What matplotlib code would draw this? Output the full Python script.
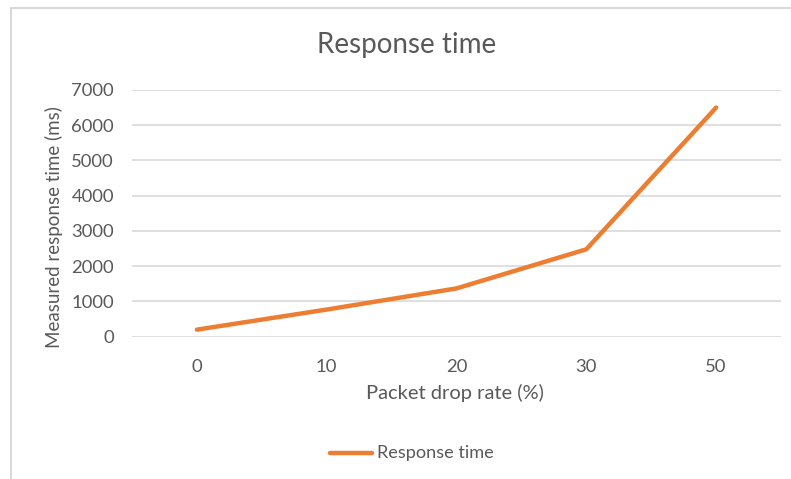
import matplotlib
matplotlib.use('Agg')
import matplotlib.pyplot as plt
from matplotlib.lines import Line2D

# data
categories = ['0', '10', '20', '30', '50']
response_ms = [200, 770, 1370, 2480, 6500]
y_ticks = [0, 1000, 2000, 3000, 4000, 5000, 6000, 7000]

orange = '#ED7D31'
text_col = '#595959'
grid_col = '#D9D9D9'

plt.rcParams['font.family'] = ['Lato', 'DejaVu Sans']

W, H = 791, 479
fig = plt.figure(figsize=(W / 100, H / 100), dpi=100)

# plot area in pixel coords
left, right, top, bottom = 132, 781, 90, 336.7
ax = fig.add_axes([left / W, 1 - bottom / H, (right - left) / W, (bottom - top) / H])

x = list(range(len(categories)))
ax.plot(x, response_ms, color=orange, linewidth=3.2, solid_capstyle='round',
        solid_joinstyle='round', label='Response time', zorder=3)

ax.set_xlim(-0.5, len(categories) - 0.5)
ax.set_ylim(0, 7000)
ax.set_yticks(y_ticks)
ax.set_xticks(x)
ax.set_xticklabels(categories)
ax.grid(axis='y', color=grid_col, linewidth=1.2)
ax.set_axisbelow(True)
for s in ax.spines.values():
    s.set_visible(False)
ax.tick_params(length=0, colors=text_col, labelsize=13.3)
ax.tick_params(axis='y', pad=13)
ax.tick_params(axis='x', pad=16)

ax.set_xlabel('Packet drop rate (%)', color=text_col, fontsize=14.5, va='center')
ax.set_ylabel('Measured response time (ms)', color=text_col, fontsize=13.5, va='center')
ax.xaxis.set_label_coords(0.497, -(393 - bottom) / (bottom - top))
ax.yaxis.set_label_coords((54 - left) / (right - left), (bottom - 227) / (bottom - top))

fig.text(407 / W, 1 - 45 / H, 'Response time', ha='center', va='center',
         color=text_col, fontsize=20)

# legend drawn by hand
fig.add_artist(Line2D([330 / W, 372 / W], [1 - 453 / H, 1 - 453 / H], color=orange,
                      linewidth=3.2, solid_capstyle='round'))
fig.text(377 / W, 1 - 453 / H, 'Response time', ha='left', va='center',
         color=text_col, fontsize=13.1)

# chart frame (top and left edges visible)
fig.add_artist(Line2D([11 / W, 1], [1 - 8 / H, 1 - 8 / H], color=grid_col, linewidth=1.5))
fig.add_artist(Line2D([11 / W, 11 / W], [0, 1 - 8 / H], color=grid_col, linewidth=1.5))

fig.savefig('out.png', dpi=100)
